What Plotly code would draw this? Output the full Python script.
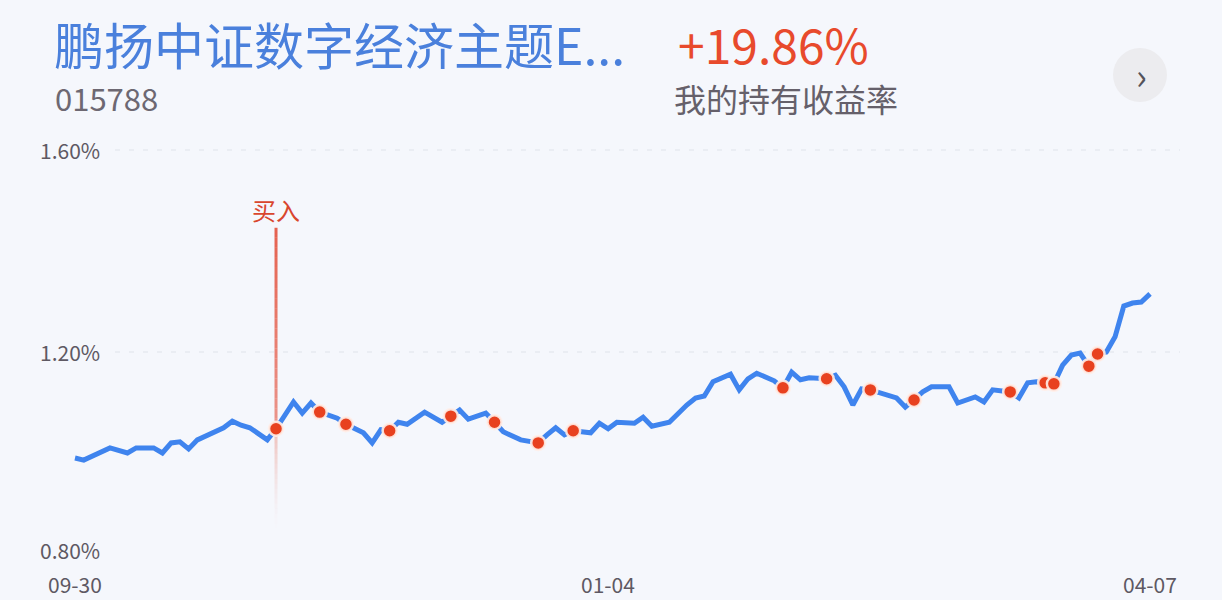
import plotly.graph_objects as go

# ---------------- data ----------------
day_idx = [0, 1, 4, 6, 7, 9, 10, 11, 12, 13, 14, 16, 17, 18, 19, 20, 22, 23,
           25, 26, 27, 28, 30, 31, 33, 34, 35, 36, 37, 38, 40, 42, 43, 44, 45,
           47, 48, 49, 51, 53, 54, 55, 56, 57, 59, 60, 61, 62, 64, 65, 66, 68,
           70, 71, 72, 73, 75, 76, 77, 78, 80, 81, 82, 83, 84, 86, 87, 88, 89,
           90, 91, 92, 94, 95, 96, 97, 98, 100, 101, 103, 104, 105, 107, 108,
           109, 110, 111, 112, 113, 114, 115, 116, 117, 118, 119, 120, 121,
           122, 123]
nav = [0.990, 0.986, 1.010, 1.000, 1.010, 1.010, 1.000, 1.020, 1.022, 1.008,
       1.026, 1.042, 1.050, 1.063, 1.055, 1.050, 1.026, 1.048,
       1.101, 1.079, 1.099, 1.081, 1.069, 1.057, 1.040, 1.020, 1.046, 1.044,
       1.061, 1.057, 1.081, 1.061, 1.073, 1.085, 1.067,
       1.079, 1.061, 1.042, 1.026, 1.020, 1.036, 1.050, 1.036, 1.044, 1.040,
       1.059, 1.048, 1.061, 1.059, 1.071, 1.053, 1.061,
       1.095, 1.109, 1.113, 1.141, 1.156, 1.125, 1.147, 1.158, 1.143, 1.129,
       1.160, 1.145, 1.149, 1.147, 1.154, 1.131, 1.095,
       1.127, 1.125, 1.119, 1.109, 1.091, 1.105, 1.121, 1.131, 1.131, 1.099,
       1.111, 1.101, 1.125, 1.121, 1.109,
       1.139, 1.141, 1.139, 1.137, 1.174, 1.194, 1.198, 1.172, 1.196, 1.200,
       1.230, 1.291, 1.297, 1.299, 1.315]
dot_days = [28, 31, 36, 43, 48, 53, 57, 81, 86, 91, 96, 107, 111, 112, 116, 117]
buy_day = 23
buy_line_top = 1.446
buy_line_bottom = 0.85

x_tick_vals = [0, 61, 123]
x_tick_text = ["09-30", "01-04", "04-07"]
y_tick_vals = [1.60, 1.20, 0.80]
y_tick_text = ["1.60%", "1.20%", "0.80%"]
grid_vals = [1.60, 1.20]

fund_name = "鹏扬中证数字经济主题E..."
fund_code = "015788"
hold_return = "+19.86%"
hold_label = "我的持有收益率"
buy_label = "买入"

# ---------------- layout helpers ----------------
W, H = 1222, 600
L, R, T, B = 40, 42, 140, 40
FONT = "Noto Sans CJK SC"
BG = "#f5f7fc"
BLUE = "#3f84ee"
RED = "#e8411f"


def px(x):
    return (x - L) / (W - L - R)


def py(y):
    return (H - B - y) / (H - T - B)


lookup = dict(zip(day_idx, nav))
dot_vals = [lookup[d] for d in dot_days]
buy_val = lookup[buy_day]

fig = go.Figure()

fig.add_trace(go.Scatter(
    x=day_idx, y=nav, mode="lines",
    line=dict(color=BLUE, width=5),
    hoverinfo="skip", showlegend=False,
))
fig.add_trace(go.Scatter(
    x=dot_days + [buy_day], y=dot_vals + [buy_val], mode="markers",
    marker=dict(color=RED, size=14, line=dict(color="rgba(255,238,232,0.9)", width=2.5)),
    hoverinfo="skip", showlegend=False,
))

shapes = []
# dashed grid lines
for g in grid_vals:
    shapes.append(dict(type="line", xref="paper", yref="y",
                       x0=px(115), x1=px(1180), y0=g, y1=g,
                       line=dict(color="#dfe3ea", width=1.2, dash="5px,9px"),
                       layer="below"))

# buy marker line with fading
n_up = 20
for i in range(n_up):
    t0 = i / n_up
    t1 = (i + 1) / n_up
    y0 = buy_line_top + (buy_val - buy_line_top) * t0
    y1 = buy_line_top + (buy_val - buy_line_top) * t1
    op = 0.85 - 0.3 * t0
    shapes.append(dict(type="line", xref="x", yref="y",
                       x0=buy_day, x1=buy_day, y0=y0, y1=y1,
                       line=dict(color="rgba(226,72,50,%.3f)" % op, width=3),
                       layer="below"))
n_dn = 20
for i in range(n_dn):
    t0 = i / n_dn
    t1 = (i + 1) / n_dn
    y0 = buy_val + (buy_line_bottom - buy_val) * t0
    y1 = buy_val + (buy_line_bottom - buy_val) * t1
    op = 0.4 * (1 - t0) ** 1.6
    shapes.append(dict(type="line", xref="x", yref="y",
                       x0=buy_day, x1=buy_day, y0=y0, y1=y1,
                       line=dict(color="rgba(230,110,90,%.3f)" % op, width=3),
                       layer="below"))

# circle button
shapes.append(dict(type="circle", xref="paper", yref="paper",
                   x0=px(1113), x1=px(1167), y0=py(102), y1=py(48),
                   fillcolor="#ececef", line=dict(width=0)))

annotations = []
annotations.append(dict(text=fund_name, xref="paper", yref="paper",
                        x=px(52), y=py(43), xanchor="left", yanchor="middle",
                        showarrow=False, font=dict(family=FONT, size=50, color="#4a80dc")))
annotations.append(dict(text=fund_code, xref="paper", yref="paper",
                        x=px(53), y=py(98), xanchor="left", yanchor="middle",
                        showarrow=False, font=dict(family=FONT, size=31, color="#6d6872")))
annotations.append(dict(text=hold_return, xref="paper", yref="paper",
                        x=px(676), y=py(43), xanchor="left", yanchor="middle",
                        showarrow=False, font=dict(family=FONT, size=48, color="#e84a2c")))
annotations.append(dict(text=hold_label, xref="paper", yref="paper",
                        x=px(672), y=py(98), xanchor="left", yanchor="middle",
                        showarrow=False, font=dict(family=FONT, size=32, color="#65606a")))
annotations.append(dict(text="›", xref="paper", yref="paper",
                        x=px(1141), y=py(74), xanchor="center", yanchor="middle",
                        showarrow=False, font=dict(family=FONT, size=36, color="#55535a")))
annotations.append(dict(text=buy_label, xref="x", yref="paper",
                        x=buy_day, y=py(209), xanchor="center", yanchor="middle",
                        showarrow=False, font=dict(family=FONT, size=24, color="#d9462e")))
for v, t in zip(y_tick_vals, y_tick_text):
    annotations.append(dict(text=t, xref="paper", yref="y",
                            x=px(38), y=v, xanchor="left", yanchor="middle",
                            yshift=4 if v == min(y_tick_vals) else 0,
                            showarrow=False, font=dict(family=FONT, size=21, color="#5e5963")))
for v, t in zip(x_tick_vals, x_tick_text):
    annotations.append(dict(text=t, xref="x", yref="paper",
                            x=v, y=py(584), xanchor="center", yanchor="middle",
                            showarrow=False, font=dict(family=FONT, size=21, color="#5e5963")))

fig.update_layout(
    width=W, height=H,
    margin=dict(l=L, r=R, t=T, b=B),
    paper_bgcolor=BG, plot_bgcolor=BG,
    xaxis=dict(range=[-35 / 8.74, 1105 / 8.74], showgrid=False, zeroline=False,
               showticklabels=False, showline=False, fixedrange=True),
    yaxis=dict(range=[0.80 - 6 / 505, 1.60 + 10 / 505], showgrid=False, zeroline=False,
               showticklabels=False, showline=False, fixedrange=True),
    shapes=shapes,
    annotations=annotations,
    showlegend=False,
)

fig.write_html("out.html", config={"displayModeBar": False},
               post_script="document.body.style.margin='0';")
